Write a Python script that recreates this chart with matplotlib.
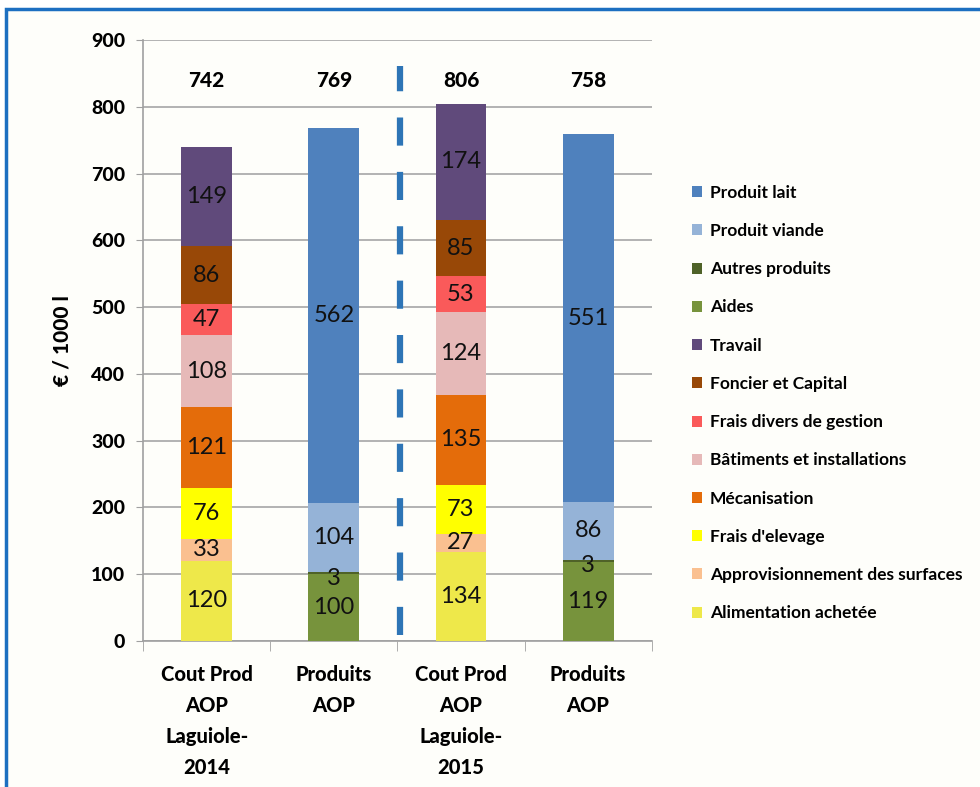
import numpy as np
import matplotlib.pyplot as plt
from matplotlib.patches import Patch, Rectangle

plt.rcParams['font.family'] = ['Lato', 'DejaVu Sans']

# categories (x axis)
categories = ['Cout Prod\nAOP\nLaguiole-\n2014', 'Produits\nAOP',
              'Cout Prod\nAOP\nLaguiole-\n2015', 'Produits\nAOP']
totals = [742, 769, 806, 758]

# stacking order from bottom to top
series = ['Alimentation achetée', 'Approvisionnement des surfaces', "Frais d'elevage",
          'Mécanisation', 'Bâtiments et installations', 'Frais divers de gestion',
          'Foncier et Capital', 'Travail', 'Aides', 'Autres produits',
          'Produit viande', 'Produit lait']
colors = ['#EEE84A', '#FAC090', '#FFFF00', '#E46C0A', '#E6B9B8', '#FA5A5A',
          '#984807', '#604A7B', '#77933C', '#4F6228', '#95B3D7', '#4F81BD']

alimentation = [120, 0, 134, 0]
approvisionnement = [33, 0, 27, 0]
frais_elevage = [76, 0, 73, 0]
mecanisation = [121, 0, 135, 0]
batiments = [108, 0, 124, 0]
frais_divers = [47, 0, 53, 0]
foncier = [86, 0, 85, 0]
travail = [149, 0, 174, 0]
aides = [0, 100, 0, 119]
autres = [0, 3, 0, 3]
viande = [0, 104, 0, 86]
lait = [0, 562, 0, 551]

values = [alimentation, approvisionnement, frais_elevage, mecanisation, batiments,
          frais_divers, foncier, travail, aides, autres, viande, lait]

BOLD = 'black'

fig = plt.figure(figsize=(9.8, 7.87), dpi=100)
# blue frame of the slide
frame = Rectangle((0.006, -0.01), 1.2, 0.998, transform=fig.transFigure,
                  facecolor='#FEFEFA', edgecolor='#1C6FC1', linewidth=2.5, zorder=-5)
fig.add_artist(frame)
ax = fig.add_axes([0.146, 0.1855, 0.519, 0.7635])
ax.set_zorder(2)
ax.set_facecolor('none')

x = np.arange(len(categories))
bottom = np.zeros(len(categories))
for name, vals, col in zip(series, values, colors):
    vals = np.array(vals, dtype=float)
    ax.bar(x, vals, 0.4, bottom=bottom, color=col, label=name, zorder=3)
    for xi, v, b in zip(x, vals, bottom):
        if v > 0:
            y = b + v / 2
            if v < 10:
                y = b + v / 2 - 8
            ax.text(xi, y, str(int(v)), ha='center', va='center',
                    fontsize=17, color='#111111', zorder=4)
    bottom += vals

for xi, t in zip(x, totals):
    ax.text(xi, 840, str(t), ha='center', va='center', fontsize=15,
            fontweight=BOLD, zorder=4)

ax.plot([1.52, 1.52], [9, 862], color='#2E75B6', linewidth=4.5,
        linestyle=(0, (4.5, 4.2)), zorder=5)

ax.set_xlim(-0.5, 3.5)
ax.set_ylim(0, 900)
ax.set_yticks(np.arange(0, 901, 100))
ax.set_yticklabels([str(v) for v in range(0, 901, 100)], fontsize=14, fontweight=BOLD)
ax.set_xticks(x)
ax.set_xticklabels(categories, fontsize=14.5, fontweight=BOLD, linespacing=1.75)
ax.tick_params(axis='x', length=0, pad=17)
ax.set_xticks(np.arange(-0.5, 3.6, 1), minor=True)
ax.tick_params(axis='x', which='minor', length=7, color='#A0A0A0')
ax.tick_params(axis='y', length=5, color='#A0A0A0', pad=8)
ax.grid(axis='y', color='#A6A6A6', linewidth=1.2, zorder=0)
for s in ['top', 'right']:
    ax.spines[s].set_visible(False)
for s in ['left', 'bottom']:
    ax.spines[s].set_color('#A0A0A0')
    ax.spines[s].set_linewidth(1.2)
ax.set_ylabel('€ / 1000 l', fontsize=15, fontweight=BOLD, labelpad=14)

handles = [Patch(facecolor=c, edgecolor='none') for c in colors][::-1]
fig.legend(handles, series[::-1], loc='upper left', bbox_to_anchor=(0.69, 0.785),
           frameon=False, handlelength=0.6, handleheight=0.6,
           handletextpad=0.45, labelspacing=1.28,
           prop={'weight': 'bold', 'size': 12.5})

fig.savefig('out.png', dpi=100)
